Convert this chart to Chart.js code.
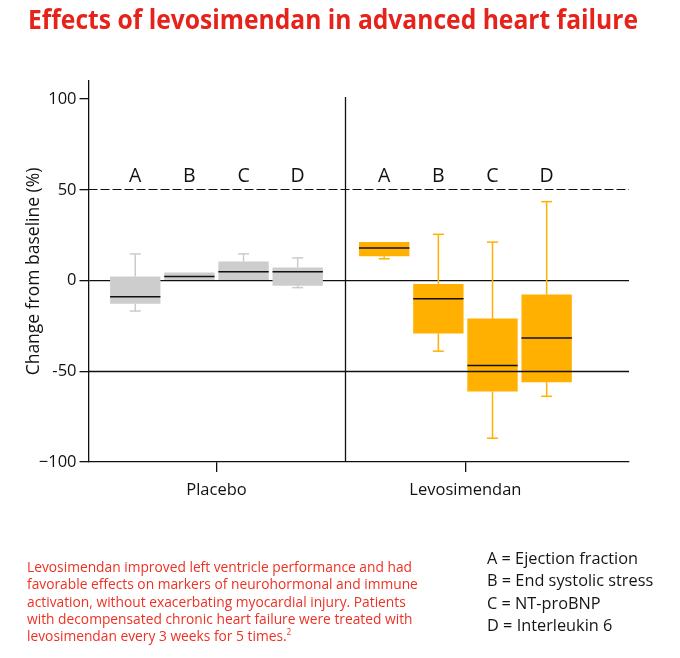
<!DOCTYPE html>
<html><head><meta charset="utf-8">
<script src="https://cdn.jsdelivr.net/npm/chart.js@4.4.1/dist/chart.umd.min.js"></script>
<style>
html,body{margin:0;padding:0;background:#fff;}
body{width:680px;height:658px;position:relative;overflow:hidden;font-family:"Open Sans","Noto Sans",sans-serif;}
#c{position:absolute;left:0;top:0;}
.t{position:absolute;white-space:nowrap;transform-origin:0 0;}
#title{left:28px;top:6px;font-size:26px;line-height:26px;font-weight:700;color:#e5231b;}
#note{left:27px;top:558px;font-size:15px;line-height:17.3px;color:#ee3124;}
#legend{left:487px;top:547px;font-size:16.5px;line-height:22.3px;color:#151515;}
.ln{display:block;}
sup{font-size:9px;line-height:0;vertical-align:6px;}
</style></head><body>
<canvas id="c" width="680" height="658"></canvas>
<div id="title" class="t">Effects of levosimendan in advanced heart failure</div>
<div id="note" class="t"><span class="ln">Levosimendan improved left ventricle performance and had</span><span class="ln">favorable effects on markers of neurohormonal and immune</span><span class="ln">activation, without exacerbating myocardial injury. Patients</span><span class="ln">with decompensated chronic heart failure were treated with</span><span class="ln">levosimendan every 3 weeks for 5 times.<sup>2</sup></span></div>
<div id="legend" class="t"></div>
<script>
// ---- data ----
const groups = ['Placebo', 'Levosimendan'];
const categories = ['A', 'B', 'C', 'D'];
const categoryNames = ['Ejection fraction', 'End systolic stress', 'NT-proBNP', 'Interleukin 6'];
// each row = category A..D, each pair = [Placebo, Levosimendan]
const lowerWhisker  = [[-16.8, 12.0], [0.0, -38.9], [0.0, -86.9], [-3.9, -63.8]];
const lowerQuartile = [[-12.8, 13.4], [0.0, -29.2], [0.0, -61.2], [-2.8, -56.0]];
const median        = [[-8.9, 17.9],  [2.2, -10.0], [4.9, -46.8], [4.9, -31.6]];
const upperQuartile = [[2.3, 21.2],   [4.5, -1.9],  [10.5, -20.9], [7.2, -7.7]];
const upperWhisker  = [[14.7, 21.2],  [4.5, 25.5],  [14.7, 21.2], [12.5, 43.5]];
const yTickValues = [100, 50, 0, -50, -100];
const yTickLabels = ['100', '50', '0', '-50', '\u2212100'];
const groupPositions = [0, 1];

// ---- styles ----
const boxColors = ['#cdcdcd', '#ffb000'];
const whiskerColors = ['#cbcbcb', '#ffb000'];
const FONT = '"Open Sans","Noto Sans",sans-serif';

document.getElementById('legend').innerHTML =
  categories.map((c, i) => '<span class="ln">' + c + ' = ' + categoryNames[i] + '</span>').join('');

const datasets = categories.map((c, ci) => ({
  label: c,
  data: groupPositions.map((gx, gi) => ({ x: gx, y: [lowerQuartile[ci][gi], upperQuartile[ci][gi]] })),
  backgroundColor: boxColors,
  borderWidth: 0,
  barPercentage: 0.93,
  categoryPercentage: 0.87
}));

function hline(ctx, x1, x2, y) { ctx.beginPath(); ctx.moveTo(x1, y); ctx.lineTo(x2, y); ctx.stroke(); }
function vline(ctx, x, y1, y2) { ctx.beginPath(); ctx.moveTo(x, y1); ctx.lineTo(x, y2); ctx.stroke(); }

const boxPlugin = {
  id: 'boxplot',
  beforeDatasetsDraw(chart) {
    const { ctx, chartArea: a, scales: { x, y } } = chart;
    ctx.save();
    ctx.strokeStyle = '#111';
    ctx.lineWidth = 1.2;
    ctx.setLineDash([9, 3]);
    hline(ctx, a.left, a.right, Math.round(y.getPixelForValue(50)) - 0.5);
    ctx.setLineDash([]);
    const xd = Math.round(x.getPixelForValue(0.518)) + 0.5;
    ctx.lineWidth = 1.3;
    vline(ctx, xd, a.top + 16, a.bottom);
    chart.data.datasets.forEach((ds, di) => {
      const meta = chart.getDatasetMeta(di);
      meta.data.forEach((bar, gi) => {
        ctx.strokeStyle = whiskerColors[gi];
        ctx.lineWidth = 1.5;
        const cx = bar.x, cap = 5.5;
        const q1p = y.getPixelForValue(lowerQuartile[di][gi]);
        const q3p = y.getPixelForValue(upperQuartile[di][gi]);
        if (upperWhisker[di][gi] > upperQuartile[di][gi]) {
          const hp = y.getPixelForValue(upperWhisker[di][gi]);
          vline(ctx, cx, q3p, hp);
          hline(ctx, cx - cap, cx + cap, hp);
        }
        if (lowerWhisker[di][gi] < lowerQuartile[di][gi]) {
          const lp = y.getPixelForValue(lowerWhisker[di][gi]);
          vline(ctx, cx, q1p, lp);
          hline(ctx, cx - cap, cx + cap, lp);
        }
      });
    });
    ctx.restore();
  },
  afterDatasetsDraw(chart) {
    const { ctx, chartArea: a, scales: { x, y } } = chart;
    ctx.save();
    ctx.strokeStyle = '#111';
    ctx.lineWidth = 1.5;
    chart.data.datasets.forEach((ds, di) => {
      const meta = chart.getDatasetMeta(di);
      meta.data.forEach((bar, gi) => {
        const mp = y.getPixelForValue(median[di][gi]);
        hline(ctx, bar.x - bar.width / 2, bar.x + bar.width / 2, mp);
        ctx.fillStyle = '#111';
        ctx.font = '19.5px ' + FONT;
        ctx.textAlign = 'center';
        ctx.textBaseline = 'alphabetic';
        ctx.fillText(ds.label, bar.x, y.getPixelForValue(50) - 8);
      });
    });
    ctx.lineWidth = 1.3;
    hline(ctx, a.left, a.right, Math.round(y.getPixelForValue(-50)) + 0.5);
    ctx.restore();
  }
};

new Chart(document.getElementById('c'), {
  type: 'bar',
  data: { datasets },
  plugins: [boxPlugin],
  options: {
    responsive: false,
    animation: false,
    layout: { padding: { left: 0, top: 81, right: 51, bottom: 156 } },
    plugins: { legend: { display: false }, tooltip: { enabled: false }, title: { display: false } },
    scales: {
      x: {
        type: 'linear',
        min: -0.514, max: 1.657,
        offset: false,
        afterBuildTicks: s => { s.ticks = groupPositions.map(v => ({ value: v })); },
        afterFit: s => { s.height = 40; },
        ticks: {
          callback: v => groups[groupPositions.indexOf(v)],
          font: { size: 16.5, family: FONT }, color: '#111', padding: 8, maxRotation: 0
        },
        grid: { display: true, drawOnChartArea: false, drawTicks: true, tickLength: 10, color: '#111', tickColor: '#111', lineWidth: 1.3, offset: false },
        border: { display: true, color: '#111', width: 1.3 }
      },
      y: {
        type: 'linear',
        min: -100, max: 110,
        afterBuildTicks: s => { s.ticks = yTickValues.map(v => ({ value: v })); },
        afterFit: s => { s.width = 88.5; },
        ticks: {
          callback: v => yTickLabels[yTickValues.indexOf(v)],
          font: { size: 16.5, family: FONT }, color: '#111', padding: 3
        },
        grid: {
          drawOnChartArea: true, drawTicks: true, tickLength: 9,
          color: c => (c.tick && c.tick.value === 0) ? '#111' : 'rgba(0,0,0,0)',
          tickColor: '#111', lineWidth: 1.3
        },
        border: { display: true, color: '#111', width: 1.3 },
        title: { display: true, text: 'Change from baseline (%)', font: { size: 17.5, family: FONT }, color: '#111', padding: { top: 24, bottom: 0 } }
      }
    }
  }
});

// fit text blocks to reference widths
function fit(id, target) {
  const el = document.getElementById(id);
  const first = el.querySelector('.ln') || el;
  const r = document.createRange(); r.selectNodeContents(first);
  const w = r.getBoundingClientRect().width;
  if (w > 0) el.style.transform = 'scaleX(' + (target / w) + ')';
}
fit('title', 610);
fit('note', 385);
fit('legend', 151);
</script>
</body></html>
